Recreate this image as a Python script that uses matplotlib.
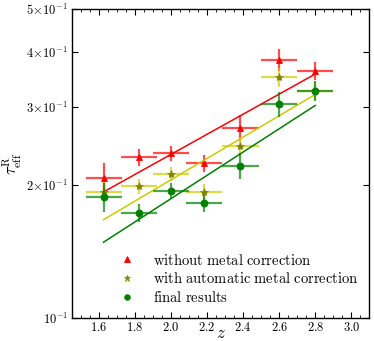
import matplotlib
matplotlib.use('Agg')
import numpy as np
import matplotlib.pyplot as plt
from matplotlib.ticker import MultipleLocator, FixedLocator, FuncFormatter, NullLocator

plt.rcParams['mathtext.fontset'] = 'cm'
plt.rcParams['font.family'] = 'serif'
plt.rcParams['font.serif'] = ['DejaVu Serif']

# redshift bins
z_raw = [1.63, 1.82, 2.0, 2.18, 2.385, 2.6, 2.8]
z_err = [0.1, 0.1, 0.1, 0.1, 0.1, 0.1, 0.1]

# without metal correction
tau_raw = [0.208, 0.231, 0.236, 0.224, 0.270, 0.384, 0.363]
tau_raw_err = [0.017, 0.010, 0.009, 0.010, 0.018, 0.022, 0.017]

# with automatic metal correction
tau_auto = [0.193, 0.199, 0.212, 0.193, 0.245, 0.351, 0.327]
tau_auto_err = [0.010, 0.008, 0.008, 0.008, 0.012, 0.018, 0.015]

# final results
tau_final = [0.188, 0.173, 0.194, 0.182, 0.221, 0.305, 0.327]
tau_final_err = [0.014, 0.008, 0.008, 0.008, 0.015, 0.020, 0.017]

# fitted power laws, endpoints
fit_z = [1.625, 2.8]
fit_raw = [0.193, 0.357]
fit_auto = [0.167, 0.321]
fit_final = [0.1485, 0.303]

ytick_vals = [0.1, 0.2, 0.3, 0.4, 0.5]


def ylabel_fmt(v, pos):
    c = int(round(v * 10))
    if c == 1:
        return r'$10^{-1}$'
    return r'$%d\!\times\!10^{-1}$' % c


def main():
    fig = plt.figure(figsize=(3.74, 3.41), dpi=100)
    ax = fig.add_axes([0.1925, 0.0674, 0.795, 0.905])

    sets = [
        (tau_raw, tau_raw_err, fit_raw, '#ff0000', '^', 5,
         r'$\mathrm{without\ metal\ correction}$'),
        (tau_auto, tau_auto_err, fit_auto, '#cccc00', '*', 6,
         r'$\mathrm{with\ automatic\ metal\ correction}$'),
        (tau_final, tau_final_err, fit_final, '#008000', 'o', 5,
         r'$\mathrm{final\ results}$'),
    ]
    for tau, err, fit, col, mk, ms, lab in sets:
        ax.errorbar(z_raw, tau, xerr=z_err, yerr=err, fmt='none',
                    ecolor=col, elinewidth=1.6, alpha=0.7, capsize=0)
        mfc = '#808000' if mk == '*' else col
        ax.plot(z_raw, tau, ls='none', marker=mk, ms=ms, mfc=mfc,
                mec=col if mk != '*' else '#8a8a10', mew=0.6, label=lab)
        ax.plot(fit_z, fit, color=col, lw=1.1)

    ax.set_yscale('log')
    ax.set_xlim(1.45, 3.1)
    ax.set_ylim(0.1, 0.5)
    ax.yaxis.set_major_locator(FixedLocator(ytick_vals))
    ax.yaxis.set_major_formatter(FuncFormatter(ylabel_fmt))
    ax.yaxis.set_minor_locator(NullLocator())
    ax.xaxis.set_major_locator(MultipleLocator(0.2))
    ax.xaxis.set_minor_locator(MultipleLocator(0.05))
    ax.tick_params(which='both', direction='in', top=True, right=True,
                   labelsize=9, pad=2.5)
    ax.tick_params(which='major', length=4)
    ax.tick_params(which='minor', length=2)
    ticks = np.arange(1.6, 3.01, 0.2)
    ax.set_xticks(ticks)
    ax.set_xticklabels([r'$\mathrm{%.1f}$' % t for t in ticks])
    for s in ax.spines.values():
        s.set_linewidth(1.0)

    ax.set_xlabel(r'$z$', fontsize=12)
    ax.set_ylabel(r'$\tau_{\rm eff}^{\rm R}$', fontsize=12)
    ax.xaxis.set_label_coords(0.5, -0.022)
    ax.yaxis.set_label_coords(-0.16, 0.5)

    ax.legend(loc='lower left', bbox_to_anchor=(0.105, 0.0), frameon=False,
              fontsize=10.5, numpoints=1, handletextpad=1.0,
              labelspacing=0.25, handlelength=1.5, markerscale=0.8)

    plt.savefig('out.png', dpi=100)


if __name__ == "__main__":
    main()
